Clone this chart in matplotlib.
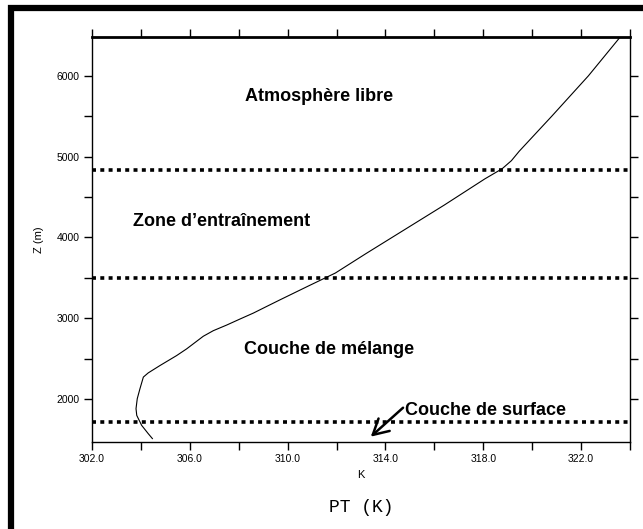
import matplotlib
matplotlib.use('Agg')
import matplotlib.pyplot as plt
from matplotlib.patches import Rectangle

# Profil de température potentielle
pt = [304.47, 304.30, 304.03, 303.83, 303.80, 303.85, 303.96, 304.10, 304.30,
      304.78, 305.46, 305.87, 306.55, 306.96, 307.51, 308.05, 308.60, 309.15,
      309.69, 310.85, 311.95, 313.20, 314.80, 316.40, 318.07, 318.77, 319.15,
      319.47, 320.80, 322.30, 323.60]
z = [1512, 1573, 1676, 1799, 1882, 2005, 2128, 2273, 2325, 2416, 2539, 2622,
     2778, 2847, 2917, 2991, 3065, 3148, 3229, 3400, 3560, 3800, 4100, 4400,
     4726, 4850, 4950, 5067, 5500, 6000, 6480]

# Limites des couches
couches_z = [4840, 3500, 1720]

# Textes des couches
textes = ['Atmosphère libre', 'Zone d\u2019entraînement', 'Couche de mélange']
textes_x = [311.3, 307.3, 311.7]
textes_z = [5741, 4197, 2618]

surface_texte = 'Couche de surface'
surface_xy = (314.8, 1857)
fleche_depart = (314.72, 1894)
fleche_pointe = (313.4, 1536)

# Graduations
xticks = [302, 304, 306, 308, 310, 312, 314, 316, 318, 320, 322, 324]
xlabels = ['302.0', '', '306.0', '', '310.0', '', '314.0', '', '318.0', '', '322.0', '']
yticks = [2000, 2500, 3000, 3500, 4000, 4500, 5000, 5500, 6000]
ylabels = ['2000', '', '3000', '', '4000', '', '5000', '', '6000']

fig = plt.figure(figsize=(6.43, 5.29), dpi=100)
ax = fig.add_axes([92 / 643, 1 - 442 / 529, 538 / 643, 405 / 529])

ax.plot(pt, z, color='black', linewidth=0.8)

for zc in couches_z:
    ax.axhline(zc, color='black', linewidth=2.6, linestyle=(0, (1.1, 1.2)))

for t, x, y in zip(textes, textes_x, textes_z):
    ax.text(x, y, t, ha='center', va='center', fontsize=13,
            fontweight='bold', family='Liberation Sans')

ax.text(surface_xy[0], surface_xy[1], surface_texte, ha='left', va='center',
        fontsize=13, fontweight='bold', family='Liberation Sans')
ax.annotate('', xy=fleche_pointe, xytext=fleche_depart,
            arrowprops=dict(arrowstyle='->, head_length=0.55, head_width=0.3',
                            color='black', lw=1.8, mutation_scale=20,
                            shrinkA=0, shrinkB=0))

ax.set_xlim(302, 324)
ax.set_ylim(1470, 6480)
ax.set_xticks(xticks)
ax.set_xticklabels(xlabels)
ax.set_yticks(yticks)
ax.set_yticklabels(ylabels)
ax.tick_params(direction='out', length=6, width=1, top=True, right=True,
               labelsize=7.5, pad=3)
for lab in ax.get_xticklabels() + ax.get_yticklabels():
    lab.set_family('Liberation Sans')

for s in ['left', 'right', 'bottom']:
    ax.spines[s].set_linewidth(1)
ax.spines['top'].set_linewidth(2)

ax.set_xlabel('K', fontsize=8, family='Liberation Sans', labelpad=4)
ax.set_ylabel('Z (m)', fontsize=8, family='Liberation Sans', labelpad=9)

fig.text((92 + 630) / 2 / 643, 1 - 508 / 529, 'PT (K)', ha='center', va='center',
         fontsize=13, family='Liberation Mono')

# Cadre noir autour de la figure
fig.patches.append(Rectangle((11 / 643, -0.5), 2, 0.5 + 1 - 8 / 529,
                             transform=fig.transFigure, fill=False,
                             edgecolor='black', linewidth=4.5))

fig.savefig('out.png', dpi=100)
